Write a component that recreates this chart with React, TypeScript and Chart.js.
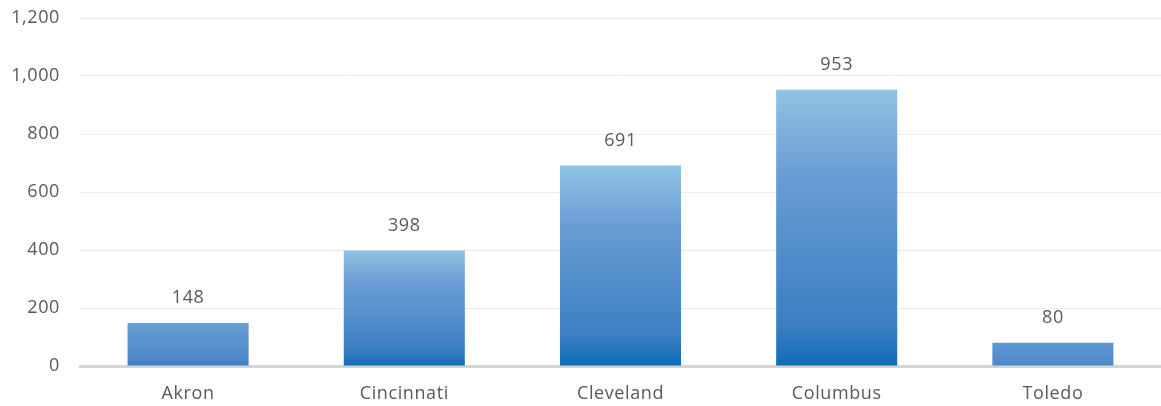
import React, { useEffect, useRef } from "react";
import { Chart, registerables } from "chart.js";

Chart.register(...registerables);

const categories = ["Akron", "Cincinnati", "Cleveland", "Columbus", "Toledo"];
const values = [148, 398, 691, 953, 80];
const yTickValues = [0, 200, 400, 600, 800, 1000, 1200];

const LIGHT = [0x90, 0xc4, 0xe3];
const UPPER = [0x6a, 0x9d, 0xd4];
const MID = [0x55, 0x8f, 0xcc];
const LOWER = [0x3c, 0x7f, 0xc3];
const DARK = [0x0d, 0x6c, 0xb6];
const FONT = "'Open Sans', 'Noto Sans', sans-serif";
const TEXT = "#595959";
const SPACING = "0.6px";
const FS = 18;

function mix(a: number[], b: number[], t: number) {
  const c = a.map((v, i) => Math.round(v + (b[i] - v) * t));
  return `rgb(${c[0]},${c[1]},${c[2]})`;
}

const spacingPlugin = {
  id: "spacing",
  beforeLayout(chart: any) {
    chart.ctx.letterSpacing = SPACING;
  },
  beforeDraw(chart: any) {
    chart.ctx.letterSpacing = SPACING;
  },
};

const labelPlugin = {
  id: "barLabels",
  afterDatasetsDraw(chart: any) {
    const ctx = chart.ctx;
    const meta = chart.getDatasetMeta(0);
    ctx.save();
    ctx.letterSpacing = SPACING;
    ctx.font = `${FS}px ${FONT}`;
    ctx.fillStyle = TEXT;
    ctx.textAlign = "center";
    ctx.textBaseline = "middle";
    meta.data.forEach((el: any, i: number) => {
      ctx.fillText(String(values[i]), el.x, el.y - 25);
    });
    ctx.restore();
  },
};

export default function App() {
  const ref = useRef<HTMLCanvasElement>(null);
  useEffect(() => {
    document.body.style.margin = "0";
    document.body.style.overflow = "hidden";
    const chart = new Chart(ref.current!, {
      type: "bar",
      data: {
        labels: categories,
        datasets: [
          {
            data: values,
            borderWidth: 0,
            barPercentage: 0.56,
            categoryPercentage: 1,
            backgroundColor: (c: any) => {
              const ch = c.chart;
              if (c.type !== "data" || !ch.chartArea || !ch.scales.y) return mix(MID, MID, 0);
              const y = ch.scales.y;
              const top = y.getPixelForValue(c.raw);
              const base = y.getPixelForValue(0);
              const h = base - top;
              const f = Math.min(1, h / 120);
              const g = ch.ctx.createLinearGradient(0, top, 0, base);
              g.addColorStop(0, mix(MID, LIGHT, f));
              g.addColorStop(0.3, mix(MID, UPPER, f));
              g.addColorStop(0.55, mix(MID, MID, f));
              g.addColorStop(0.85, mix(MID, LOWER, f));
              g.addColorStop(1, mix(MID, DARK, f));
              return g;
            },
          },
        ],
      },
      options: {
        animation: false,
        responsive: true,
        maintainAspectRatio: false,
        layout: { padding: { top: 18, left: 0, right: 0, bottom: 0 } },
        plugins: {
          legend: { display: false },
          tooltip: { enabled: false },
        },
        scales: {
          x: {
            grid: { display: false, drawTicks: false },
            border: { display: true, color: "#d4d4d4", width: 3 },
            ticks: {
              color: TEXT,
              font: { family: FONT, size: FS },
              padding: 17,
            },
            afterFit: (s: any) => {
              s.height = 40;
              s.paddingLeft = 0;
              s.paddingRight = 0;
            },
          },
          y: {
            min: 0,
            max: 1200,
            afterBuildTicks: (s: any) => {
              s.ticks = yTickValues.map((v) => ({ value: v }));
            },
            grid: { color: "#ececec", lineWidth: 1, drawTicks: false },
            border: { display: false },
            ticks: {
              color: TEXT,
              font: { family: FONT, size: FS },
              padding: 20,
              callback: (v: any) => Number(v).toLocaleString("en-US"),
            },
            afterFit: (s: any) => {
              s.width = 80;
              s.paddingTop = 0;
              s.paddingBottom = 0;
            },
          },
        },
      },
      plugins: [spacingPlugin, labelPlugin],
    });
    return () => chart.destroy();
  }, []);
  return (
    <div style={{ position: "absolute", left: 0, top: 0, width: 1161, height: 406 }}>
      <canvas ref={ref} />
    </div>
  );
}
